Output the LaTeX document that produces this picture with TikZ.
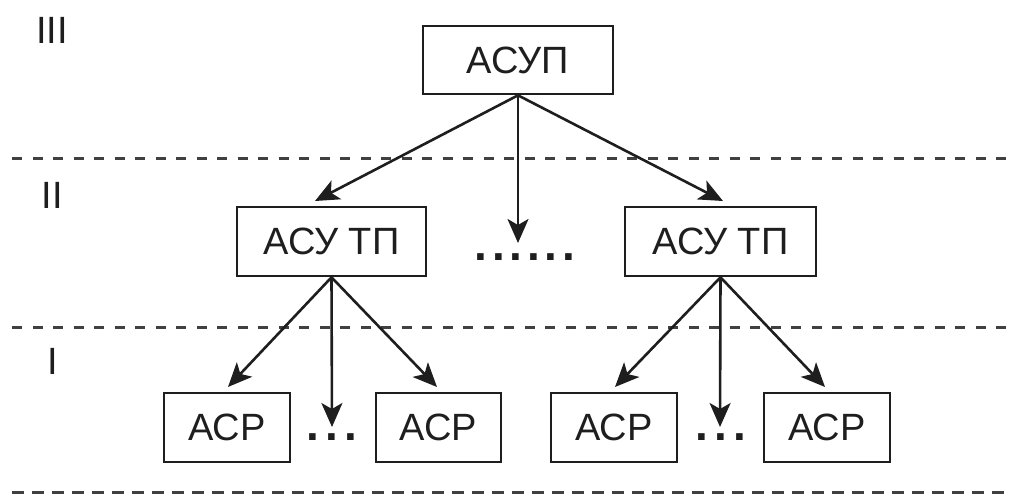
\documentclass[tikz,border=0pt]{standalone}
\usepackage{fontspec}
\setmainfont{Liberation Sans}
\usetikzlibrary{arrows.meta}
\definecolor{ink}{HTML}{1E1E1E}
\begin{document}
\begin{tikzpicture}[x=1pt,y=-1pt,
  box/.style={draw=ink,line width=2.6pt,minimum height=69pt,inner sep=0pt,font=\fontsize{38}{42}\selectfont,text=ink},
  lvl/.style={font=\fontsize{38}{42}\selectfont,text=ink,inner sep=0pt},
  conn/.style={draw=ink,line width=2.6pt,-{Stealth[length=24pt,width=21pt,inset=6pt]}},
  sep/.style={draw=ink!85,line width=3pt,dash pattern=on 10pt off 10.5pt},
  sepb/.style={draw=ink!85,line width=3pt,dash pattern=on 12pt off 8pt},
  dotsnode/.style={font=\bfseries\fontsize{46}{50}\selectfont,text=ink,inner sep=0pt}]
\useasboundingbox (0,0) rectangle (1009,493);
% separators
\draw[sep] (12,158) -- (1009,158);
\draw[sep] (12,327) -- (1009,327);
\draw[sepb] (12,492) -- (1009,492);
% level labels
\node[lvl] (l3) at (52,30) {III};
\node[lvl] (l2) at (52,195) {II};
\node[lvl] (l1) at (53,361) {I};
% boxes
\node[box,minimum width=190pt,minimum height=68pt] (top) at (518,60) {АСУП};
\node[box,minimum width=189pt] (tpL) at (331.5,241.5) {АСУ ТП};
\node[box,minimum width=191pt] (tpR) at (720.5,241.5) {АСУ ТП};
\node[box,minimum width=126pt] (a1) at (227,427.5) {АСР};
\node[box,minimum width=125pt] (a2) at (438.5,427.5) {АСР};
\node[box,minimum width=126pt] (a3) at (614,427.5) {АСР};
\node[box,minimum width=126pt] (a4) at (827,427.5) {АСР};
% dots
\node[dotsnode] (d0) at (525,257) {.\kern4.8pt.\kern4.8pt.\kern4.8pt.\kern4.8pt.\kern4.8pt.};
\node[dotsnode] (d1) at (332,437) {.\kern6.2pt.\kern6.2pt.};
\node[dotsnode] (d2) at (721,437) {.\kern6.2pt.\kern6.2pt.};
% arrow end points
\coordinate (t1) at (315,201);
\coordinate (t2) at (518,243);
\coordinate (t3) at (723,201);
\coordinate (s1) at (228,387);
\coordinate (s2) at (332,427);
\coordinate (s3) at (437,387);
\coordinate (r1) at (615,387);
\coordinate (r2) at (720,427);
\coordinate (r3) at (825,387);
% connectors
\draw[conn] (top.south) -- (t1);
\draw[conn] (top.south) -- (t2);
\draw[conn] (top.south) -- (t3);
\draw[conn] (tpL.south) -- (s1);
\draw[conn] (tpL.south) -- (s2);
\draw[conn] (tpL.south) -- (s3);
\draw[conn] (tpR.south) -- (r1);
\draw[conn] (tpR.south) -- (r2);
\draw[conn] (tpR.south) -- (r3);
\end{tikzpicture}
\end{document}
